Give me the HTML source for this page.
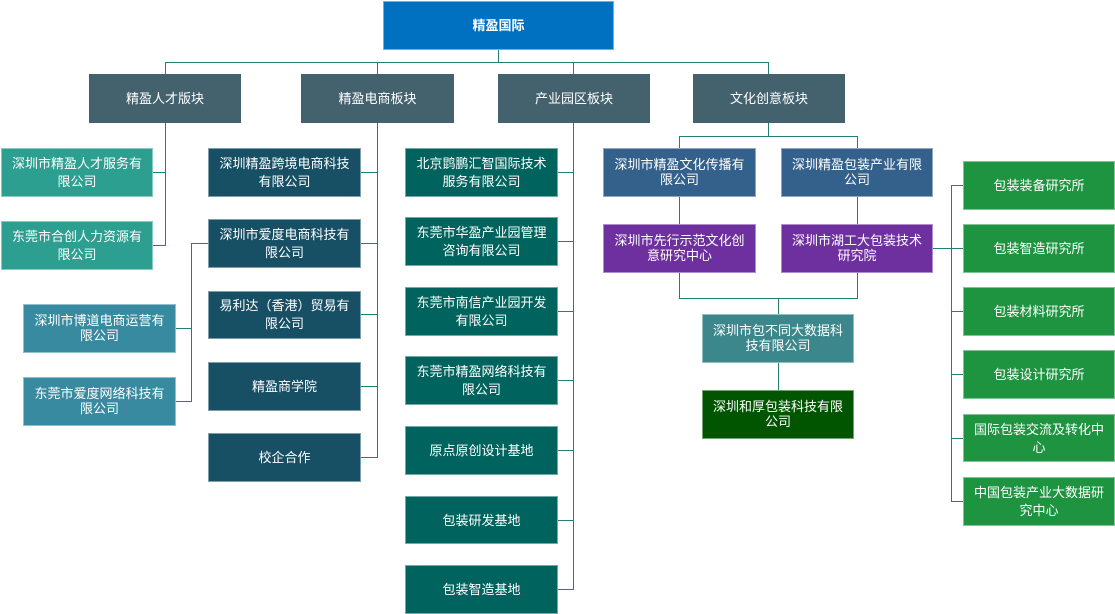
<!DOCTYPE html>
<html><head><meta charset="utf-8"><style>
html,body{margin:0;padding:0;background:#fff}
#c{position:relative;width:1115px;height:614px;overflow:hidden;background:#fff;font-family:"WenQuanYi Zen Hei","Liberation Sans","Noto Sans CJK SC",sans-serif;font-size:13px;color:#fff;text-rendering:optimizeSpeed}
svg{position:absolute;left:0;top:0}
.b{position:absolute;box-sizing:border-box;border:1px solid rgba(255,255,255,.45);display:flex;align-items:center;justify-content:center;text-align:center;line-height:18px;white-space:nowrap}
.t{line-height:15px;padding-bottom:2px}
.d{padding-top:2px}
</style></head><body><div id="c">
<svg width="1115" height="614" fill="none" stroke="#217f75" stroke-width="1" shape-rendering="crispEdges">
<path d="M498.5 50V62.5M165.5 74V62.5H768.5V74M377.5 62V74M573.5 62V74"/>
<path d="M165.5 123V245.5H153M153 172.5H165"/>
<path d="M377.5 123V457.5H361M361 172.5H377M361 243.5H377M361 314.5H377M361 386.5H377"/>
<path d="M208 243.5H191.5V401.5H176M176 328.5H191"/>
<path d="M573.5 123V589.5H558M558 172.5H573M558 241.5H573M558 311.5H573M558 380.5H573M558 450.5H573M558 520.5H573"/>
<path d="M768.5 123V136.5M679.5 148V136.5H857.5V148M679.5 196V224M857.5 196V224M679.5 272V298.5H857.5V272M778.5 298V314M778.5 362V390"/>
<path d="M933 248.5H963M963 185.5H951.5V501.5H963M951 311.5H963M951 374.5H963M951 438.5H963"/>
</svg>
<div class="b" style="left:383px;top:1px;width:231px;height:49px;background:#0070c0;font-weight:bold">精盈国际</div>

<div class="b" style="left:89px;top:74px;width:152px;height:49px;background:#43626e;border-color:transparent">精盈人才版块</div>
<div class="b" style="left:301px;top:74px;width:153px;height:49px;background:#43626e;border-color:transparent">精盈电商板块</div>
<div class="b" style="left:498px;top:74px;width:152px;height:49px;background:#43626e;border-color:transparent">产业园区板块</div>
<div class="b" style="left:693px;top:74px;width:152px;height:49px;background:#43626e;border-color:transparent">文化创意板块</div>

<div class="b" style="left:1px;top:148px;width:152px;height:49px;background:#2c9f91">深圳市精盈人才服务有<br>限公司</div>
<div class="b" style="left:1px;top:221px;width:152px;height:49px;background:#2c9f91">东莞市合创人力资源有<br>限公司</div>

<div class="b" style="left:208px;top:148px;width:153px;height:49px;background:#174f65">深圳精盈跨境电商科技<br>有限公司</div>
<div class="b" style="left:208px;top:219px;width:153px;height:49px;background:#174f65">深圳市爱度电商科技有<br>限公司</div>
<div class="b" style="left:208px;top:291px;width:153px;height:48px;background:#174f65">易利达（香港）贸易有<br>限公司</div>
<div class="b" style="left:208px;top:362px;width:153px;height:49px;background:#174f65">精盈商学院</div>
<div class="b" style="left:208px;top:433px;width:153px;height:49px;background:#174f65">校企合作</div>

<div class="b t" style="left:23px;top:304px;width:153px;height:49px;background:#388aa0">深圳市博道电商运营有<br>限公司</div>
<div class="b t" style="left:23px;top:377px;width:153px;height:49px;background:#388aa0">东莞市爱度网络科技有<br>限公司</div>

<div class="b" style="left:405px;top:148px;width:153px;height:49px;background:#00635d">北京鹍鹏汇智国际技术<br>服务有限公司</div>
<div class="b" style="left:405px;top:217px;width:153px;height:49px;background:#00635d">东莞市华盈产业园管理<br>咨询有限公司</div>
<div class="b" style="left:405px;top:287px;width:153px;height:49px;background:#00635d">东莞市南信产业园开发<br>有限公司</div>
<div class="b" style="left:405px;top:356px;width:153px;height:49px;background:#00635d">东莞市精盈网络科技有<br>限公司</div>
<div class="b" style="left:405px;top:426px;width:153px;height:49px;background:#00635d">原点原创设计基地</div>
<div class="b d" style="left:405px;top:496px;width:153px;height:48px;background:#00635d">包装研发基地</div>
<div class="b" style="left:405px;top:565px;width:153px;height:49px;background:#00635d">包装智造基地</div>

<div class="b t" style="left:603px;top:148px;width:153px;height:49px;background:#34618b">深圳市精盈文化传播有<br>限公司</div>
<div class="b t" style="left:781px;top:148px;width:152px;height:49px;background:#34618b">深圳精盈包装产业有限<br>公司</div>
<div class="b t" style="left:603px;top:224px;width:153px;height:49px;background:#6f309f">深圳市先行示范文化创<br>意研究中心</div>
<div class="b t" style="left:781px;top:224px;width:152px;height:49px;background:#6f309f">深圳市湖工大包装技术<br>研究院</div>
<div class="b t" style="left:702px;top:314px;width:152px;height:49px;background:#3b878b">深圳市包不同大数据科<br>技有限公司</div>
<div class="b t" style="left:702px;top:390px;width:152px;height:49px;background:#015501">深圳和厚包装科技有限<br>公司</div>

<div class="b" style="left:963px;top:161px;width:152px;height:49px;background:#1e9440">包装装备研究所</div>
<div class="b" style="left:963px;top:224px;width:152px;height:49px;background:#1e9440">包装智造研究所</div>
<div class="b" style="left:963px;top:287px;width:152px;height:49px;background:#1e9440">包装材料研究所</div>
<div class="b" style="left:963px;top:350px;width:152px;height:49px;background:#1e9440">包装设计研究所</div>
<div class="b d" style="left:963px;top:414px;width:152px;height:48px;background:#1e9440">国际包装交流及转化中<br>心</div>
<div class="b" style="left:963px;top:477px;width:152px;height:49px;background:#1e9440">中国包装产业大数据研<br>究中心</div>
</div></body></html>
